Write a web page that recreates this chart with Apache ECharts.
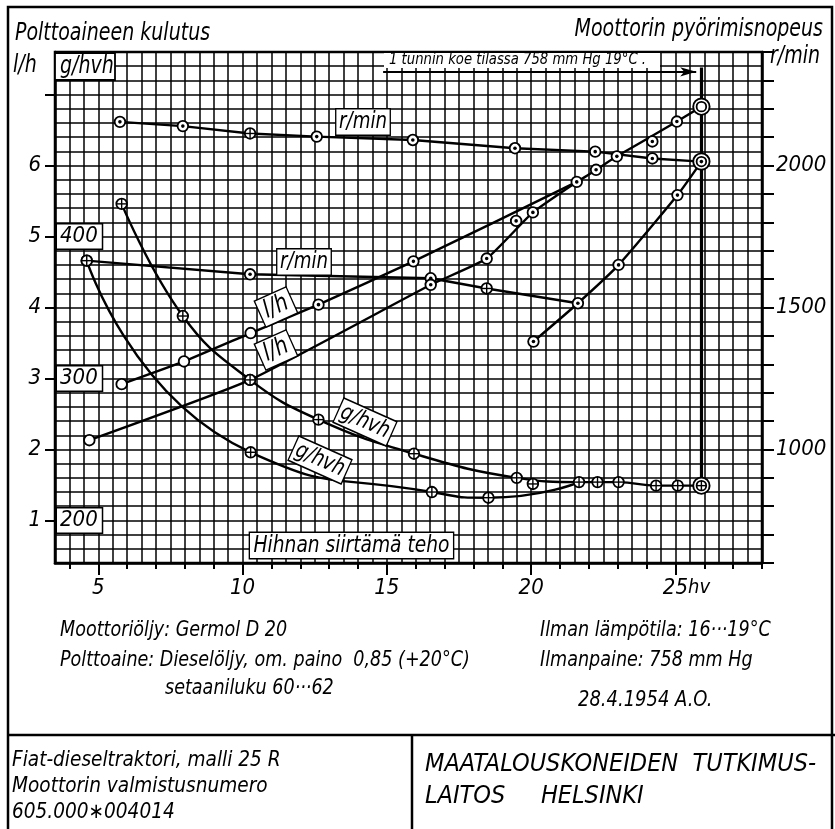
<!DOCTYPE html>
<html><head><meta charset="utf-8">
<script src="https://cdn.jsdelivr.net/npm/echarts@6/dist/echarts.min.js"></script>
<style>html,body{margin:0;padding:0;background:#fff}#c{width:835px;height:829px}</style>
</head><body><div id="c"></div><script>
// ---------------- data ----------------
// x: belt power (hv)
const xTicks = [4,5,6,7,8,9,10,11,12,13,14,15,16,17,18,19,20,21,22,23,24,25,26,27,28];
const xLabels = [5,10,15,20,25];
const lhLabels = [1,2,3,4,5,6];
const lhTicks = [1,2,3,4,5,6,7];
const gLabels = [200,300,400];
const rpmLabels = [1000,1500,2000];

// engine speed r/min, governed speed, variable load
const rpmUpperHv   = [5.75, 7.93, 10.26, 12.57, 15.9, 19.44, 22.22, 24.2, 25.9];
const rpmUpper     = [2154, 2139, 2113, 2102, 2090, 2061, 2049, 2025, 2014];
const rpmUpperMark = ['dot','dot','cross','dot','dot','dot','dot','dot','ddot'];
// engine speed, reduced speed test
const rpmLowerHv   = [4.6, 10.26, 16.52, 18.46, 21.62];
const rpmLower     = [1665, 1617, 1603, 1567, 1515];
const rpmLowerMark = ['cross','dot','dot','cross','dot'];
// engine speed, full throttle lugging
const rpmFullHv    = [20.08, 21.62, 23.03, 25.07, 25.9];
const rpmFull      = [1380, 1515, 1650, 1896, 2014];
const rpmFullMark  = ['dot', null, 'dot', 'dot', null];

// fuel consumption l/h
const lhUpperHv   = [5.81, 7.97, 10.28, 12.63, 15.92, 21.58, 22.25, 22.97, 25.05, 25.9];
const lhUpper     = [2.92, 3.24, 3.64, 4.04, 4.65, 5.77, 5.94, 6.13, 6.62, 6.83];
const lhUpperMark = ['empty','empty','empty','dot','dot','dot','dot','dot','dot','dempty'];
const lhLowerHv   = [4.69, 10.26, 16.52, 18.46, 20.06, 21.58];
const lhLower     = [2.13, 2.98, 4.32, 4.69, 5.34, 5.77];
const lhLowerMark = ['empty','cross','dot','dot','dot', null];
const lhLooseHv   = [19.48, 24.2];
const lhLoose     = [5.22, 6.34];
const lhLooseMark = ['dot','dot'];

// specific consumption g/hvh
const gUpperHv   = [5.81, 7.93, 10.26, 12.63, 15.94, 19.5, 21.66, 22.3, 23.03, 24.33, 25.08, 25.9];
const gUpper     = [423, 344, 299, 271, 247, 230, 227, 227, 227, 224.5, 224.5, 224.5];
const gUpperMark = ['cross','cross','cross','cross','cross','cross','cross','cross','cross','cross','cross','dcross'];
const gLowerHv   = [4.6, 10.28, 16.56, 18.52, 21.66];
const gLower     = [383, 248, 220, 216, 227];
const gLowerMark = ['cross','cross','cross','cross', null];
const gLooseHv   = [20.06];
const gLoose     = [225.7];
const gLooseMark = ['cross'];

// one-hour test annotation
const HOUR_HV = 25.9;
const HOUR_TOP_G = 519;
const ARROW_G = 516;
const ARROW_START_HV = 14.87;
const ARROW_END_HV = 25.72;

// ---------------- chart ----------------
const FF = '"Liberation Sans Narrow","DejaVu Sans Condensed","Liberation Sans",Roboto,sans-serif';
const font = s => 'italic ' + s + 'px ' + FF;
const KIND = {empty:0, dot:1, cross:2, dempty:3, ddot:4, dcross:5};

function lineSeries(hv, vals, yIdx, smooth, extra) {
  return Object.assign({
    type: 'line', xAxisIndex: 0, yAxisIndex: yIdx,
    data: hv.map((x, i) => [x, vals[i]]),
    symbol: 'none', showSymbol: false, smooth: smooth,
    lineStyle: {color: '#000', width: 2.4},
    silent: true, z: 3, clip: false
  }, extra || {});
}
function renderMarker(params, api) {
  const p = api.coord([api.value(0), api.value(1)]);
  const k = api.value(2);
  const cx = p[0], cy = p[1];
  const big = k >= 3;
  const ch = [];
  if (big) ch.push({type:'circle', shape:{cx, cy, r:8.2}, style:{fill:'#fff', stroke:'#000', lineWidth:1.9}});
  const r = big ? 4.8 : 5.3;
  ch.push({type:'circle', shape:{cx, cy, r}, style:{fill:'#fff', stroke:'#000', lineWidth:1.8}});
  if (k === 1 || k === 4) ch.push({type:'circle', shape:{cx, cy, r:1.8}, style:{fill:'#000'}});
  if (k === 2 || k === 5) {
    ch.push({type:'line', shape:{x1:cx-r, y1:cy, x2:cx+r, y2:cy}, style:{stroke:'#000', lineWidth:1.4}});
    ch.push({type:'line', shape:{x1:cx, y1:cy-r, x2:cx, y2:cy+r}, style:{stroke:'#000', lineWidth:1.4}});
  }
  return {type:'group', children: ch};
}
function markerSeries(hv, vals, marks, yIdx) {
  const data = [];
  hv.forEach((x, i) => { if (marks[i]) data.push([x, vals[i], KIND[marks[i]]]); });
  return {type:'custom', coordinateSystem:'cartesian2d', xAxisIndex:0, yAxisIndex:yIdx,
    data, encode:{x:0, y:1}, renderItem: renderMarker, silent:true, z:5, clip:false};
}
// text helper (narrow italic lettering imitated by horizontal scaling)
function T(x, y, text, size, o) {
  o = o || {};
  const style = {text, font:font(size), fill:'#000', align:o.align || 'left', verticalAlign:o.va || 'top'};
  if (o.box) Object.assign(style, {backgroundColor:'#fff', borderColor:'#000', borderWidth:1.5, padding:o.pad || [2,4,0,4]});
  return {type:'text', x, y, rotation:o.rot || 0, scaleX:o.sx || 0.88, z:o.z || 11, style};
}

const axisFont = {fontStyle:'italic', fontFamily:FF, fontSize:22, color:'#000'};
const gridLine = {show:true, lineStyle:{color:'#000', width:1.5}};

const option = {
  animation: false,
  backgroundColor: '#fff',
  grid: {left:55, top:52, right:73, bottom:266, show:true, borderColor:'#000', borderWidth:2.5},
  xAxis: [{
    type:'value', min:3.5, max:28, position:'bottom',
    axisLine:{show:true, onZero:false, lineStyle:{color:'#000', width:2.5}},
    axisTick:{show:true, customValues:xTicks, length:6, lineStyle:{color:'#000', width:2}},
    axisLabel:Object.assign({customValues:xLabels, margin:14,
      formatter: v => v === 25 ? '{p|hv}25{u|hv}' : String(v),
      rich:{p:{color:'rgba(0,0,0,0)', fontSize:20, fontStyle:'italic', fontFamily:FF},
            u:{color:'#000', fontSize:20, fontStyle:'italic', fontFamily:FF}}}, axisFont),
    splitLine:{show:false}
  }, {
    type:'value', min:3.5, max:28, position:'bottom',
    axisLine:{show:false, onZero:false},
    axisTick:{show:true, customValues:xLabels, length:12, lineStyle:{color:'#000', width:2}},
    axisLabel:{show:false}, splitLine:{show:false}
  }, {
    type:'value', min:3.5, max:28, interval:0.5, position:'bottom',
    axisLine:{show:false, onZero:false}, axisTick:{show:false}, axisLabel:{show:false},
    splitLine:gridLine
  }],
  yAxis: [{
    type:'value', min:0.4, max:7.6, position:'left',
    axisLine:{show:true, onZero:false, lineStyle:{color:'#000', width:2.5}},
    axisTick:{show:true, customValues:lhTicks, length:10, lineStyle:{color:'#000', width:2}},
    axisLabel:Object.assign({customValues:lhLabels, margin:14, formatter: v => String(v)}, axisFont),
    splitLine:{show:false}
  }, {
    type:'value', min:170, max:530, position:'left',
    axisLine:{show:false}, axisTick:{show:false}, splitLine:{show:false},
    axisLabel:Object.assign({customValues:gLabels, inside:true, margin:2, formatter: v => String(v),
      backgroundColor:'#fff', borderColor:'#000', borderWidth:1.5, padding:[2,4,0,3]}, axisFont)
  }, {
    type:'value', min:600, max:2400, interval:100, position:'right',
    axisLine:{show:true, onZero:false, lineStyle:{color:'#000', width:2.5}},
    axisTick:{show:true, length:12, lineStyle:{color:'#000', width:2}},
    axisLabel:Object.assign({customValues:rpmLabels, margin:14, formatter: v => String(v)}, axisFont),
    splitLine:{show:false}
  }, {
    type:'value', min:0.4, max:7.6, interval:0.2, position:'left',
    axisLine:{show:false, onZero:false}, axisTick:{show:false}, axisLabel:{show:false},
    splitLine:gridLine
  }],
  series: [
    lineSeries(rpmUpperHv, rpmUpper, 2, false),
    lineSeries(rpmLowerHv, rpmLower, 2, false),
    lineSeries(rpmFullHv, rpmFull, 2, 0.2),
    lineSeries(lhUpperHv, lhUpper, 0, 0.15, {
      markLine:{silent:true, animation:false, label:{show:false},
        lineStyle:{color:'#000', width:1.8, type:'solid'},
        data:[[{coord:[ARROW_START_HV, (ARROW_G-150)/50], symbol:'none'},
               {coord:[ARROW_END_HV, (ARROW_G-150)/50], symbol:'arrow', symbolSize:[7,16]}]]}
    }),
    lineSeries(lhLowerHv, lhLower, 0, 0.15),
    lineSeries(gUpperHv, gUpper, 1, 0.45, {
      markLine:{silent:true, animation:false, label:{show:false}, symbol:['none','none'],
        lineStyle:{color:'#000', width:3.2, type:'solid'},
        data:[[{coord:[HOUR_HV, HOUR_TOP_G]}, {coord:[HOUR_HV, gUpper[gUpper.length-1]]}]]}
    }),
    lineSeries(gLowerHv, gLower, 1, 0.6),
    markerSeries(rpmUpperHv, rpmUpper, rpmUpperMark, 2),
    markerSeries(rpmLowerHv, rpmLower, rpmLowerMark, 2),
    markerSeries(rpmFullHv, rpmFull, rpmFullMark, 2),
    markerSeries(lhUpperHv, lhUpper, lhUpperMark, 0),
    markerSeries(lhLowerHv, lhLower, lhLowerMark, 0),
    markerSeries(lhLooseHv, lhLoose, lhLooseMark, 0),
    markerSeries(gUpperHv, gUpper, gUpperMark, 1),
    markerSeries(gLowerHv, gLower, gLowerMark, 1),
    markerSeries(gLooseHv, gLoose, gLooseMark, 1)
  ],
  graphic: [
    // frame
    {type:'rect', shape:{x:8, y:7, width:824, height:840}, style:{fill:'none', stroke:'#000', lineWidth:2.5}, z:1},
    {type:'line', shape:{x1:8, y1:735, x2:835, y2:735}, style:{stroke:'#000', lineWidth:2.5}},
    {type:'line', shape:{x1:412, y1:735, x2:412, y2:829}, style:{stroke:'#000', lineWidth:2.5}},
    // titles
    T(15, 22, 'Polttoaineen kulutus', 24),
    T(13, 54, 'l/h', 24),
    {type:'rect', shape:{x:55, y:53, width:60, height:27}, style:{fill:'#fff', stroke:'#000', lineWidth:1.8}, z:10},
    T(60, 55, 'g/hvh', 24),
    T(823, 18, 'Moottorin pyörimisnopeus', 24, {align:'right'}),
    T(820, 45, 'r/min', 24, {align:'right'}),
    {type:'rect', shape:{x:384, y:53, width:276, height:15}, style:{fill:'#fff'}, z:10},
    T(389, 53, '1 tunnin koe tilassa 758 mm Hg 19°C .', 15, {sx:0.98}),
    T(250, 533, 'Hihnan siirtämä teho', 23, {box:true, sx:0.9}),
    // curve labels
    T(363, 122, 'r/min', 23, {box:true, align:'center', va:'middle', pad:[2,3,0,3]}),
    T(304, 262, 'r/min', 23, {box:true, align:'center', va:'middle', pad:[2,3,0,3]}),
    T(276, 307, 'l/h', 25, {box:true, align:'center', va:'middle', pad:[2,5,0,5], rot:0.42}),
    T(276, 350, 'l/h', 25, {box:true, align:'center', va:'middle', pad:[2,5,0,5], rot:0.42}),
    T(365, 422, 'g/hvh', 23, {box:true, align:'center', va:'middle', pad:[2,3,0,3], rot:-0.42}),
    T(320, 460, 'g/hvh', 23, {box:true, align:'center', va:'middle', pad:[2,3,0,3], rot:-0.42}),
    // notes
    T(60, 620, 'Moottoriöljy: Germol D 20', 21, {sx:0.93}),
    T(60, 650, 'Polttoaine: Dieselöljy, om. paino  0,85 (+20°C)', 21, {sx:0.93}),
    T(165, 678, 'setaaniluku 60···62', 21, {sx:0.93}),
    T(540, 620, 'Ilman lämpötila: 16···19°C', 21, {sx:0.93}),
    T(540, 650, 'Ilmanpaine: 758 mm Hg', 21, {sx:0.93}),
    T(578, 690, '28.4.1954 A.O.', 21, {sx:0.95}),
    T(12, 750, 'Fiat-dieseltraktori, malli 25 R', 21, {sx:0.98}),
    T(12, 776, 'Moottorin valmistusnumero', 21, {sx:0.98}),
    T(12, 802, '605.000∗004014', 21, {sx:0.98}),
    T(425, 752, 'MAATALOUSKONEIDEN  TUTKIMUS-', 25, {sx:1.0}),
    T(425, 784, 'LAITOS     HELSINKI', 25, {sx:1.0})
  ]
};
const chart = echarts.init(document.getElementById('c'), null, {renderer:'canvas'});
chart.setOption(option);
</script></body></html>
